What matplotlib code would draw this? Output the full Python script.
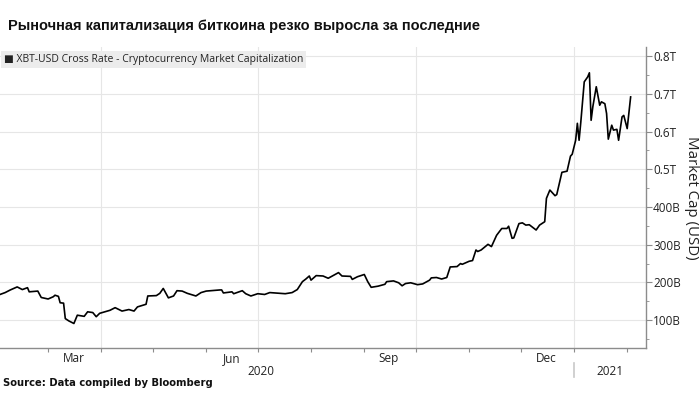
import pandas as pd
import numpy as np
import matplotlib.pyplot as plt
import matplotlib.dates as mdates
import matplotlib.transforms as mtransforms
from matplotlib.ticker import FixedLocator, FuncFormatter

# datos (miles de millones USD)
dates = ['2020-02-02', '2020-02-05', '2020-02-08', '2020-02-12', '2020-02-15', '2020-02-18',
         '2020-02-19', '2020-02-24', '2020-02-26', '2020-03-01', '2020-03-04', '2020-03-05',
         '2020-03-07', '2020-03-08', '2020-03-10', '2020-03-11', '2020-03-13', '2020-03-16',
         '2020-03-17', '2020-03-18', '2020-03-22', '2020-03-24', '2020-03-27', '2020-03-29',
         '2020-03-31', '2020-04-06', '2020-04-09', '2020-04-13', '2020-04-17', '2020-04-20',
         '2020-04-22', '2020-04-27', '2020-04-28', '2020-05-03', '2020-05-05', '2020-05-07',
         '2020-05-10', '2020-05-13', '2020-05-15', '2020-05-18', '2020-05-21', '2020-05-26',
         '2020-05-29', '2020-06-01', '2020-06-09', '2020-06-10', '2020-06-11', '2020-06-16',
         '2020-06-17', '2020-06-22', '2020-06-24', '2020-06-27', '2020-07-01', '2020-07-05',
         '2020-07-08', '2020-07-17', '2020-07-21', '2020-07-24', '2020-07-27', '2020-07-29',
         '2020-07-31', '2020-08-01', '2020-08-04', '2020-08-08', '2020-08-11', '2020-08-13',
         '2020-08-17', '2020-08-19', '2020-08-24', '2020-08-25', '2020-08-28', '2020-09-01',
         '2020-09-03', '2020-09-05', '2020-09-09', '2020-09-13', '2020-09-14', '2020-09-18',
         '2020-09-21', '2020-09-23', '2020-09-25', '2020-09-28', '2020-10-02', '2020-10-05',
         '2020-10-09', '2020-10-10', '2020-10-13', '2020-10-16', '2020-10-19', '2020-10-21',
         '2020-10-25', '2020-10-27', '2020-10-28', '2020-11-01', '2020-11-03', '2020-11-05',
         '2020-11-06', '2020-11-08', '2020-11-12', '2020-11-14', '2020-11-17', '2020-11-20',
         '2020-11-23', '2020-11-24', '2020-11-26', '2020-11-27', '2020-11-30', '2020-12-02',
         '2020-12-04', '2020-12-06', '2020-12-10', '2020-12-12', '2020-12-15', '2020-12-16',
         '2020-12-18', '2020-12-21', '2020-12-22', '2020-12-25', '2020-12-28', '2020-12-30',
         '2020-12-31', '2021-01-02', '2021-01-03', '2021-01-04', '2021-01-05', '2021-01-07',
         '2021-01-09', '2021-01-10', '2021-01-11', '2021-01-12', '2021-01-14', '2021-01-16',
         '2021-01-17', '2021-01-19', '2021-01-20', '2021-01-21', '2021-01-23', '2021-01-24',
         '2021-01-26', '2021-01-27', '2021-01-29', '2021-01-30', '2021-02-01', '2021-02-03']
market_cap = [168, 173, 180, 188, 181, 186,
              175, 177, 160, 156, 162, 166,
              163, 146, 145, 104, 98, 91,
              102, 113, 110, 122, 120, 109,
              118, 126, 133, 124, 128, 124,
              135, 142, 164, 165, 171, 184,
              159, 164, 178, 177, 171, 164,
              173, 177, 180, 180, 172, 175,
              170, 178, 170, 164, 170, 168,
              173, 170, 173, 181, 202, 209,
              217, 206, 218, 217, 211, 216,
              226, 217, 216, 208, 215, 221,
              202, 187, 190, 195, 202, 204,
              199, 191, 197, 199, 194, 196,
              206, 212, 213, 209, 213, 241,
              242, 250, 248, 256, 258, 286,
              282, 286, 301, 295, 325, 343,
              343, 349, 317, 318, 356, 358,
              352, 353, 339, 352, 361, 423,
              445, 430, 433, 492, 495, 535,
              540, 577, 622, 577, 625, 732,
              745, 756, 630, 666, 719, 670,
              679, 674, 648, 580, 617, 604,
              606, 577, 639, 643, 608, 692]

month_labels = ['Mar', 'Jun', 'Sep', 'Dec']
label_dates = ['2020-03-16', '2020-06-16', '2020-09-15', '2020-12-16']
years = ['2020', '2021']
year_dates = ['2020-07-03', '2021-01-22']
y_ticks = [100, 200, 300, 400, 500, 600, 700, 800]

x = pd.to_datetime(dates)

fig = plt.figure(figsize=(7, 3.93), dpi=100)
ax = fig.add_axes([0, 0.1145, 0.923, 0.7655])

ax.plot(x, market_cap, color='black', lw=1.2)

ax.set_xlim(pd.Timestamp('2020-02-02'), pd.Timestamp('2021-02-12'))
ax.set_ylim(26, 824)

# ejes
for s in ['left', 'top']:
    ax.spines[s].set_visible(False)
for s in ['right', 'bottom']:
    ax.spines[s].set_color('#8c8c8c')
    ax.spines[s].set_linewidth(1.0)

ax.yaxis.tick_right()
ax.yaxis.set_major_locator(FixedLocator(y_ticks))
ax.yaxis.set_minor_locator(FixedLocator([v + 50 for v in [0] + y_ticks[:-1]]))
ax.yaxis.set_major_formatter(FuncFormatter(
    lambda v, p: '{:.1f}T'.format(v / 1000) if v >= 500 else '{:.0f}B'.format(v)))
ax.tick_params(axis='y', which='major', length=4, color='#8c8c8c', labelsize=8.5,
               labelcolor='#222222', pad=1)
ax.tick_params(axis='y', which='minor', length=2, color='#8c8c8c')
for lab in ax.get_yticklabels():
    lab.set_family('Open Sans')
ax.grid(axis='y', which='major', color='#e6e6e6', lw=0.8)

ax.yaxis.set_label_position('right')
ax.set_ylabel('Market Cap (USD)', rotation=270, fontsize=10.8, family='Open Sans',
              color='#222222', labelpad=13)

# meses: ticks en inicio de mes, grid en trimestres
ax.xaxis.set_major_locator(mdates.MonthLocator())
ax.xaxis.set_major_formatter(plt.NullFormatter())
ax.tick_params(axis='x', which='major', length=3, color='#8c8c8c')
for q in pd.to_datetime(['2020-04-01', '2020-07-01', '2020-10-01', '2021-01-01']):
    ax.axvline(q, color='#e6e6e6', lw=0.8, zorder=0)

trans = mtransforms.blended_transform_factory(ax.transData, ax.transAxes)
for d, lab in zip(label_dates, month_labels):
    ax.text(pd.Timestamp(d), -0.035, lab, transform=trans, ha='center', va='center',
            fontsize=8.5, family='Open Sans', color='#222222')
for d, lab in zip(year_dates, years):
    ax.text(pd.Timestamp(d), -0.077, lab, transform=trans, ha='center', va='center',
            fontsize=8.5, family='Open Sans', color='#222222')
ax.plot([pd.Timestamp('2021-01-01')] * 2, [-0.05, -0.097], transform=trans,
        color='#c8c8c8', lw=1.2, clip_on=False)

# leyenda
ax.text(0.006, 0.958, '\u25a0 XBT-USD Cross Rate - Cryptocurrency Market Capitalization',
        transform=ax.transAxes, fontsize=7.5, family=['Open Sans', 'DejaVu Sans'],
        color='#222222', va='center', ha='left',
        bbox=dict(boxstyle='square,pad=0.3', fc='#ececec', ec='none'))

fig.text(0.012, 0.935, 'Рыночная капитализация биткоина резко выросла за последние',
         fontsize=10.5, fontweight='bold', family='Liberation Sans', color='#111111',
         va='center', ha='left')
fig.text(0.004, 0.025, 'Source: Data compiled by Bloomberg', fontsize=7.2,
         fontweight='bold', family='DejaVu Sans', color='#111111', va='center', ha='left')

fig.savefig('out.png', dpi=100)
